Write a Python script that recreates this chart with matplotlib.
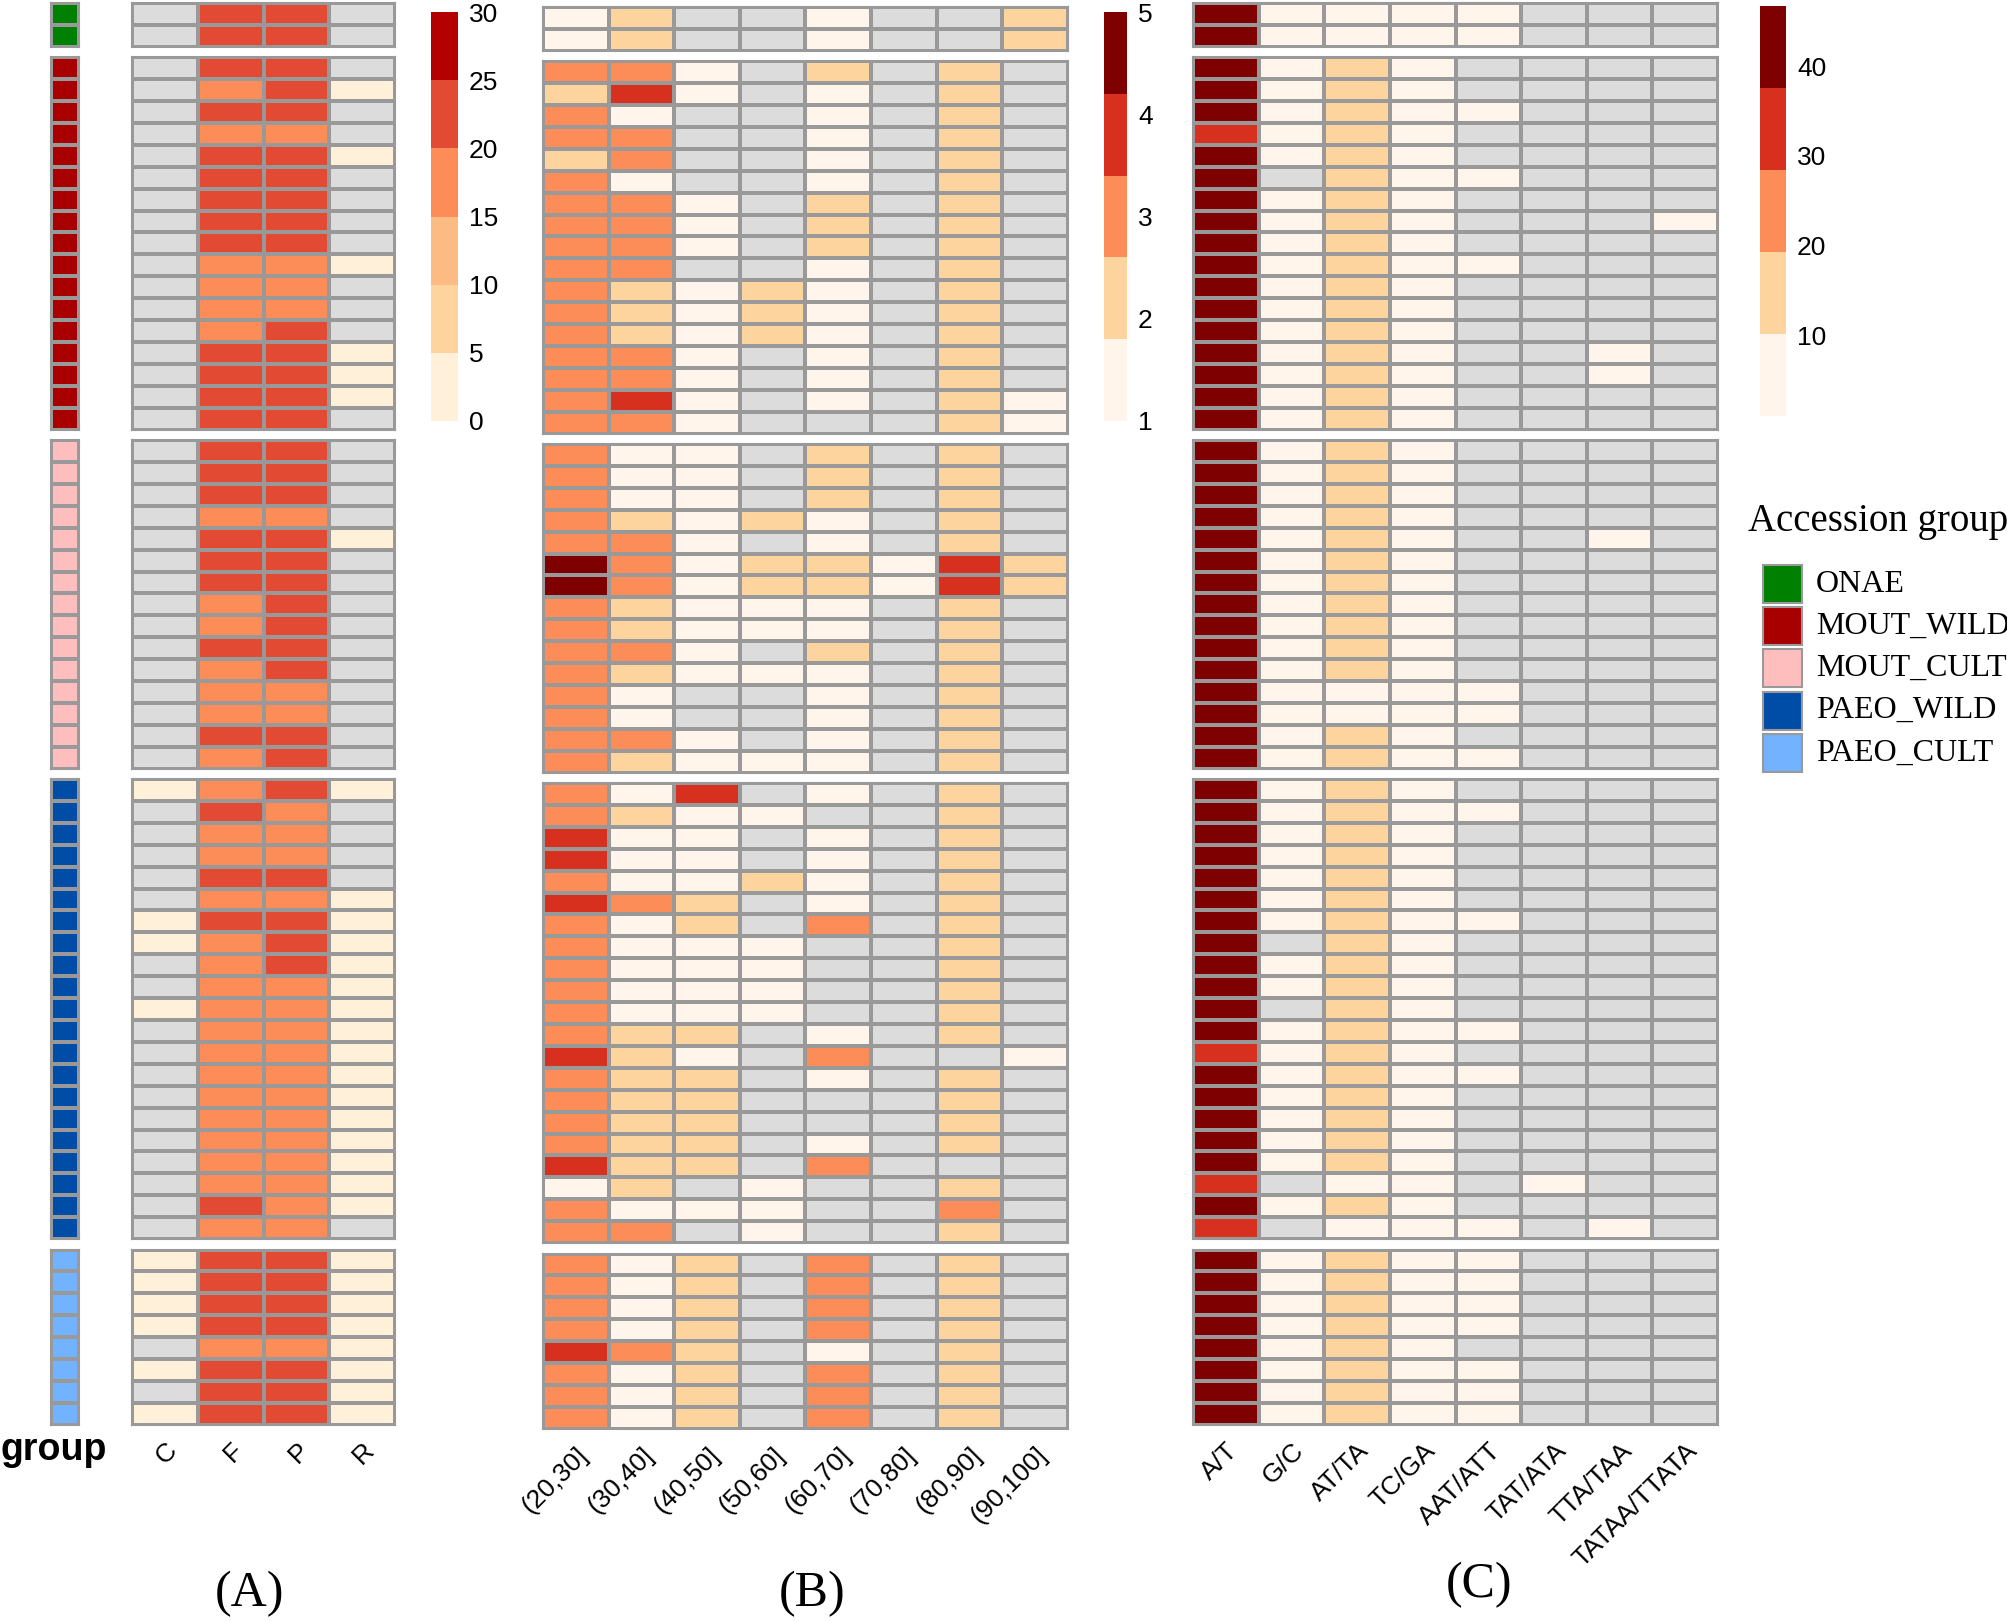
import numpy as np
import matplotlib
matplotlib.use('Agg')
import matplotlib.pyplot as plt
from matplotlib.colors import ListedColormap, BoundaryNorm
from matplotlib.patches import Rectangle

plt.rcParams['font.family'] = ['Liberation Sans', 'DejaVu Sans']

na = np.nan

# row groups (top to bottom)
group_names = ['ONAE', 'MOUT_WILD', 'MOUT_CULT', 'PAEO_WILD', 'PAEO_CULT']
group_sizes = [2, 17, 15, 21, 8]
group_colors = ['#008000', '#A80000', '#FFBEBE', '#004DA8', '#73B2FF']

# (A) columns
a_cols = ['C', 'F', 'P', 'R']
a_vals = [
    # ONAE
    [na, 22, 22, na], [na, 22, 22, na],
    # MOUT_WILD
    [na, 22, 22, na], [na, 17, 22, 2], [na, 22, 22, na], [na, 17, 17, na],
    [na, 22, 22, 2], [na, 22, 22, na], [na, 22, 22, na], [na, 22, 22, na],
    [na, 22, 22, na], [na, 17, 17, 2], [na, 17, 17, na], [na, 17, 17, na],
    [na, 17, 22, na], [na, 22, 22, 2], [na, 22, 22, 2], [na, 22, 22, 2],
    [na, 22, 22, na],
    # MOUT_CULT
    [na, 22, 22, na], [na, 22, 22, na], [na, 22, 22, na], [na, 17, 17, na],
    [na, 22, 22, 2], [na, 22, 22, na], [na, 22, 22, na], [na, 17, 22, na],
    [na, 17, 22, na], [na, 22, 22, na], [na, 17, 22, na], [na, 17, 17, na],
    [na, 17, 17, na], [na, 22, 22, na], [na, 17, 22, na],
    # PAEO_WILD
    [2, 17, 22, 2], [na, 22, 17, na], [na, 17, 17, na], [na, 17, 17, na],
    [na, 22, 22, na], [na, 17, 17, 2], [2, 22, 22, 2], [2, 17, 22, 2],
    [na, 17, 22, 2], [na, 17, 17, 2], [2, 17, 17, 2], [na, 17, 17, 2],
    [na, 17, 17, 2], [na, 17, 17, 2], [na, 17, 17, 2], [na, 17, 17, 2],
    [na, 17, 17, 2], [na, 17, 17, 2], [na, 17, 17, 2], [na, 22, 17, 2],
    [na, 17, 17, na],
    # PAEO_CULT
    [2, 22, 22, 2], [2, 22, 22, 2], [2, 22, 22, 2], [2, 22, 22, 2],
    [na, 17, 17, 2], [2, 22, 22, 2], [na, 22, 22, 2], [2, 22, 22, 2],
]

# (B) columns
b_cols = ['(20,30]', '(30,40]', '(40,50]', '(50,60]', '(60,70]', '(70,80]', '(80,90]', '(90,100]']
b_vals = [
    # ONAE
    [1, 2, na, na, 1, na, na, 2], [1, 2, na, na, 1, na, na, 2],
    # MOUT_WILD
    [3, 3, 1, na, 2, na, 2, na], [2, 4, 1, na, 1, na, 2, na],
    [3, 1, na, na, 1, na, 2, na], [3, 3, na, na, 1, na, 2, na],
    [2, 3, na, na, 1, na, 2, na], [3, 1, na, na, 1, na, 2, na],
    [3, 3, 1, na, 2, na, 2, na], [3, 3, 1, na, 2, na, 2, na],
    [3, 3, 1, na, 2, na, 2, na], [3, 3, na, na, 1, na, 2, na],
    [3, 2, 1, 2, 1, na, 2, na], [3, 2, 1, 2, 1, na, 2, na],
    [3, 2, 1, 2, 1, na, 2, na], [3, 3, 1, na, 1, na, 2, na],
    [3, 3, 1, na, 1, na, 2, na], [3, 4, 1, na, 1, na, 2, 1],
    [3, 3, 1, na, na, na, 2, 1],
    # MOUT_CULT
    [3, 1, 1, na, 2, na, 2, na], [3, 1, 1, na, 2, na, 2, na],
    [3, 1, 1, na, 2, na, 2, na], [3, 2, 1, 2, 1, na, 2, na],
    [3, 3, 1, na, 1, na, 2, na], [5, 3, 1, 2, 2, 1, 4, 2],
    [5, 3, 1, 2, 2, 1, 4, 2], [3, 2, 1, 1, 1, na, 2, na],
    [3, 2, 1, 1, 1, na, 2, na], [3, 3, 1, na, 2, na, 2, na],
    [3, 2, 1, 1, 1, na, 2, na], [3, 1, na, na, 1, na, 2, na],
    [3, 1, na, na, 1, na, 2, na], [3, 3, 1, na, 1, na, 2, na],
    [3, 2, 1, 1, 1, na, 2, na],
    # PAEO_WILD
    [3, 1, 4, na, 1, na, 2, na], [3, 2, 1, 1, na, na, 2, na],
    [4, 1, 1, na, 1, na, 2, na], [4, 1, 1, na, 1, na, 2, na],
    [3, 1, 1, 2, 1, na, 2, na], [4, 3, 2, na, 1, na, 2, na],
    [3, 1, 2, na, 3, na, 2, na], [3, 1, 1, 1, na, na, 2, na],
    [3, 1, 1, 1, na, na, 2, na], [3, 1, 1, 1, na, na, 2, na],
    [3, 1, 1, 1, na, na, 2, na], [3, 2, 2, na, 1, na, 2, na],
    [4, 2, 1, na, 3, na, na, 1], [3, 2, 2, na, 1, na, 2, na],
    [3, 2, 2, na, na, na, 2, na], [3, 2, 2, na, na, na, 2, na],
    [3, 2, 2, na, 1, na, 2, na], [4, 2, 2, na, 3, na, na, na],
    [1, 2, na, 1, na, na, 2, na], [3, 1, 1, 1, na, na, 3, na],
    [3, 3, na, 1, na, na, 2, na],
    # PAEO_CULT
    [3, 1, 2, na, 3, na, 2, na], [3, 1, 2, na, 3, na, 2, na],
    [3, 1, 2, na, 3, na, 2, na], [3, 1, 2, na, 3, na, 2, na],
    [4, 3, 2, na, 1, na, 2, na], [3, 1, 2, na, 3, na, 2, na],
    [3, 1, 2, na, 3, na, 2, na], [3, 1, 2, na, 3, na, 2, na],
]

# (C) columns
c_cols = ['A/T', 'G/C', 'AT/TA', 'TC/GA', 'AAT/ATT', 'TAT/ATA', 'TTA/TAA', 'TATAA/TTATA']
c_vals = [
    # ONAE
    [44, 3, 3, 3, 3, na, na, na], [44, 3, 3, 3, 3, na, na, na],
    # MOUT_WILD
    [44, 3, 12, 3, na, na, na, na], [44, 3, 12, 3, na, na, na, na],
    [44, 3, 12, 3, 3, na, na, na], [35, 3, 12, 3, na, na, na, na],
    [44, 3, 12, 3, na, na, na, na], [44, na, 12, 3, 3, na, na, na],
    [44, 3, 12, 3, na, na, na, na], [44, 3, 12, 3, na, na, na, 3],
    [44, 3, 12, 3, na, na, na, na], [44, 3, 12, 3, 3, na, na, na],
    [44, 3, 12, 3, na, na, na, na], [44, 3, 12, 3, na, na, na, na],
    [44, 3, 12, 3, na, na, na, na], [44, 3, 12, 3, na, na, 3, na],
    [44, 3, 12, 3, na, na, 3, na], [44, 3, 12, 3, na, na, na, na],
    [44, 3, 12, 3, na, na, na, na],
    # MOUT_CULT
    [44, 3, 12, 3, na, na, na, na], [44, 3, 12, 3, na, na, na, na],
    [44, 3, 12, 3, na, na, na, na], [44, 3, 12, 3, na, na, na, na],
    [44, 3, 12, 3, na, na, 3, na], [44, 3, 12, 3, na, na, na, na],
    [44, 3, 12, 3, na, na, na, na], [44, 3, 12, 3, na, na, na, na],
    [44, 3, 12, 3, na, na, na, na], [44, 3, 12, 3, na, na, na, na],
    [44, 3, 12, 3, na, na, na, na], [44, 3, 3, 3, 3, na, na, na],
    [44, 3, 3, 3, 3, na, na, na], [44, 3, 12, 3, na, na, na, na],
    [44, 3, 12, 3, 3, na, na, na],
    # PAEO_WILD
    [44, 3, 12, 3, na, na, na, na], [44, 3, 12, 3, 3, na, na, na],
    [44, 3, 12, 3, na, na, na, na], [44, 3, 12, 3, na, na, na, na],
    [44, 3, 12, 3, na, na, na, na], [44, 3, 12, 3, na, na, na, na],
    [44, 3, 12, 3, 3, na, na, na], [44, na, 12, 3, na, na, na, na],
    [44, 3, 12, 3, na, na, na, na], [44, 3, 12, 3, na, na, na, na],
    [44, na, 12, 3, na, na, na, na], [44, 3, 12, 3, 3, na, na, na],
    [35, 3, 12, 3, na, na, na, na], [44, 3, 12, 3, 3, na, na, na],
    [44, 3, 12, 3, na, na, na, na], [44, 3, 12, 3, na, na, na, na],
    [44, 3, 12, 3, na, na, na, na], [44, 3, 12, 3, na, na, na, na],
    [35, na, 3, 3, na, 3, na, na], [44, 3, 12, 3, na, na, na, na],
    [35, na, 3, 3, 3, na, 3, na],
    # PAEO_CULT
    [44, 3, 12, 3, 3, na, na, na], [44, 3, 12, 3, 3, na, na, na],
    [44, 3, 12, 3, 3, na, na, na], [44, 3, 12, 3, 3, na, na, na],
    [44, 3, 12, 3, na, na, na, na], [44, 3, 12, 3, 3, na, na, na],
    [44, 3, 12, 3, 3, na, na, na], [44, 3, 12, 3, 3, na, na, na],
]

GRID = '#999999'
NA_COL = '#DCDCDC'
LW = 1.5

a_cmap = ListedColormap(['#FEF0D9', '#FDD49E', '#FDBB84', '#FC8D59', '#E34A33', '#B30000']).with_extremes(bad=NA_COL)
a_norm = BoundaryNorm(np.linspace(0, 30, 7), 6)
bc_colors = ['#FFF5EB', '#FDD49E', '#FC8D59', '#D7301F', '#7F0000']
b_cmap = ListedColormap(bc_colors).with_extremes(bad=NA_COL)
b_norm = BoundaryNorm(np.linspace(1, 5, 6), 5)
c_cmap = ListedColormap(bc_colors).with_extremes(bad=NA_COL)
c_norm = BoundaryNorm(np.linspace(1, 46.7, 6), 5)

W, H = 2008, 1621
fig = plt.figure(figsize=(W / 100, H / 100), dpi=100)


def add_ax(x0, y0, x1, y1):
    return fig.add_axes([x0 / W, 1 - y1 / H, (x1 - x0) / W, (y1 - y0) / H])


def group_spans(dy=0):
    row_h, gap, y = 21.9, 10.5, 3 + dy
    spans = []
    for n in group_sizes:
        spans.append((y, y + n * row_h))
        y += n * row_h + gap
    return spans


def style(ax):
    ax.set_xticks([])
    ax.set_yticks([])
    for s in ax.spines.values():
        s.set_color(GRID)
        s.set_linewidth(LW)


def draw_heatmap(vals, cols, x0, x1, cmap, norm, dy=0):
    vals = np.array(vals, dtype=float)
    start = 0
    for n, (y0, y1) in zip(group_sizes, group_spans(dy)):
        ax = add_ax(x0, y0, x1, y1)
        block = np.ma.masked_invalid(vals[start:start + n])
        ax.set_facecolor(NA_COL)
        ax.pcolormesh(block, cmap=cmap, norm=norm, edgecolors=GRID, linewidth=LW)
        ax.set_xlim(0, vals.shape[1])
        ax.set_ylim(n, 0)
        style(ax)
        start += n
    ax.set_xticks(np.arange(len(cols)) + 0.5)
    ax.set_xticklabels(cols, rotation=45, ha='right', va='top', rotation_mode='anchor', fontsize=19)
    ax.tick_params(axis='x', length=0, pad=10)


def draw_cbar(x0, y0, x1, y1, cmap, norm, ticks):
    cax = add_ax(x0, y0, x1, y1)
    sm = matplotlib.cm.ScalarMappable(norm=norm, cmap=cmap)
    cb = fig.colorbar(sm, cax=cax, ticks=ticks)
    cb.outline.set_visible(False)
    cb.minorticks_off()
    cax.tick_params(which='both', length=0, pad=8, labelsize=19)


# group annotation strip
group_idx = np.repeat(np.arange(len(group_sizes)), group_sizes)
strip_cmap = ListedColormap(group_colors)
start = 0
for n, (y0, y1) in zip(group_sizes, group_spans()):
    ax = add_ax(51, y0, 79, y1)
    ax.pcolormesh(group_idx[start:start + n, None], cmap=strip_cmap, vmin=-0.5,
                  vmax=len(group_sizes) - 0.5, edgecolors=GRID, linewidth=LW)
    ax.set_xlim(0, 1)
    ax.set_ylim(n, 0)
    style(ax)
    start += n

draw_heatmap(a_vals, a_cols, 132, 395, a_cmap, a_norm)
draw_heatmap(b_vals, b_cols, 543, 1068, b_cmap, b_norm, dy=4)
draw_heatmap(c_vals, c_cols, 1193, 1718, c_cmap, c_norm)

draw_cbar(431, 12, 458, 421, a_cmap, a_norm, [0, 5, 10, 15, 20, 25, 30])
draw_cbar(1104, 12, 1127, 421, b_cmap, b_norm, [1, 2, 3, 4, 5])
draw_cbar(1760, 6, 1786, 416, c_cmap, c_norm, [10, 20, 30, 40])

# overlay for legend and panel labels, in pixel coordinates
lax = fig.add_axes([0, 0, 1, 1])
lax.set_xlim(0, W)
lax.set_ylim(H, 0)
lax.axis('off')

serif = ['Liberation Serif', 'DejaVu Serif']
lax.text(1748, 521, 'Accession group', fontsize=28, family=serif, va='center', ha='left')
for i, (name, col) in enumerate(zip(group_names, group_colors)):
    yc = 584 + i * 42.2
    lax.add_patch(Rectangle((1763, yc - 19), 39, 38, facecolor=col, edgecolor=GRID, linewidth=LW))
    lax.text(1816, yc, name, fontsize=23, family=serif, va='center', ha='left')

lax.text(0, 1460, 'group', fontsize=27, fontweight='bold', va='baseline', ha='left')

lax.text(250, 1594, '(A)', fontsize=36, family=serif, va='center', ha='center')
lax.text(812, 1594, '(B)', fontsize=36, family=serif, va='center', ha='center')
lax.text(1479, 1585, '(C)', fontsize=36, family=serif, va='center', ha='center')

fig.savefig('out.png', dpi=100)
